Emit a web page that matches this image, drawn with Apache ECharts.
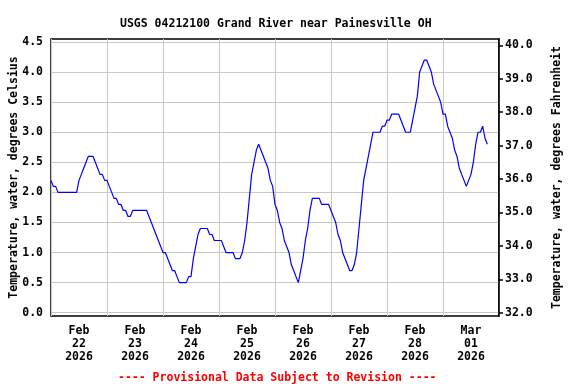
<!DOCTYPE html>
<html><head><meta charset="utf-8">
<script src="https://cdn.jsdelivr.net/npm/echarts@6/dist/echarts.min.js"></script>
<style>html,body{margin:0;padding:0;background:#fff}#c{width:576px;height:384px}</style>
</head><body><div id="c"></div>
<script>
const titleText = 'USGS 04212100 Grand River near Painesville OH';
const noteText = '---- Provisional Data Subject to Revision ----';
const leftName = 'Temperature, water, degrees Celsius';
const rightName = 'Temperature, water, degrees Fahrenheit';

// x axis in hours since 2026-02-22 00:00
const dayTickHours = [12, 36, 60, 84, 108, 132, 156, 180];
const dayTickLabels = ['Feb\n22\n2026', 'Feb\n23\n2026', 'Feb\n24\n2026', 'Feb\n25\n2026',
  'Feb\n26\n2026', 'Feb\n27\n2026', 'Feb\n28\n2026', 'Mar\n01\n2026'];
const celsiusTicks = [0, 0.5, 1, 1.5, 2, 2.5, 3, 3.5, 4, 4.5];
const fahrenheitTicks = [32, 33, 34, 35, 36, 37, 38, 39, 40];

// hourly water temperature, degrees Celsius
const tempC = [
  2.2,2.1,2.1,2.0,2.0,2.0,2.0,2.0,2.0,2.0,2.0,2.0,2.2,2.3,2.4,2.5,2.6,2.6,2.6,2.5,2.4,2.3,2.3,2.2,
  2.2,2.1,2.0,1.9,1.9,1.8,1.8,1.7,1.7,1.6,1.6,1.7,1.7,1.7,1.7,1.7,1.7,1.7,1.6,1.5,1.4,1.3,1.2,1.1,
  1.0,1.0,0.9,0.8,0.7,0.7,0.6,0.5,0.5,0.5,0.5,0.6,0.6,0.9,1.1,1.3,1.4,1.4,1.4,1.4,1.3,1.3,1.2,1.2,
  1.2,1.2,1.1,1.0,1.0,1.0,1.0,0.9,0.9,0.9,1.0,1.2,1.5,1.9,2.3,2.5,2.7,2.8,2.7,2.6,2.5,2.4,2.2,2.1,
  1.8,1.7,1.5,1.4,1.2,1.1,1.0,0.8,0.7,0.6,0.5,0.7,0.9,1.2,1.4,1.7,1.9,1.9,1.9,1.9,1.8,1.8,1.8,1.8,
  1.7,1.6,1.5,1.3,1.2,1.0,0.9,0.8,0.7,0.7,0.8,1.0,1.4,1.8,2.2,2.4,2.6,2.8,3.0,3.0,3.0,3.0,3.1,3.1,
  3.2,3.2,3.3,3.3,3.3,3.3,3.2,3.1,3.0,3.0,3.0,3.2,3.4,3.6,4.0,4.1,4.2,4.2,4.1,4.0,3.8,3.7,3.6,3.5,
  3.3,3.3,3.1,3.0,2.9,2.7,2.6,2.4,2.3,2.2,2.1,2.2,2.3,2.5,2.8,3.0,3.0,3.1,2.9,2.8
];
const hours = tempC.map((_, i) => i);

const yMinC = -0.055, yMaxC = 4.55;
const cToF = c => c * 1.8 + 32;
const font = { fontFamily: 'DejaVu Sans Mono', fontWeight: 'bold', fontSize: 11.5, color: '#000' };

const chart = echarts.init(document.getElementById('c'), null, { renderer: 'canvas' });
chart.setOption({
  animation: false,
  backgroundColor: '#fff',
  title: [
    { text: titleText, left: 115, top: 13, textStyle: Object.assign({}, font) },
    { text: noteText, left: 113, top: 367, textStyle: Object.assign({}, font, { color: '#ff0000' }) }
  ],
  grid: { left: 51, right: 77, top: 39, bottom: 68, show: true, borderColor: '#000', borderWidth: 1.5,
    backgroundColor: 'transparent', containLabel: false, outerBoundsMode: 'none' },
  xAxis: {
    type: 'value', min: 0, max: 192, interval: 24,
    axisLine: { show: false }, axisTick: { show: false },
    splitLine: { show: true, lineStyle: { color: '#c8c8c8', width: 1 } },
    axisLabel: Object.assign({}, font, {
      customValues: dayTickHours, margin: 9, lineHeight: 13,
      formatter: v => dayTickLabels[dayTickHours.indexOf(v)]
    })
  },
  yAxis: [
    {
      type: 'value', min: yMinC, max: yMaxC, position: 'left',
      name: leftName, nameLocation: 'middle', nameGap: 31, nameRotate: 90, nameMoveOverlap: false,
      nameTextStyle: Object.assign({}, font),
      axisLine: { show: false },
      axisTick: { show: false, customValues: celsiusTicks },
      splitLine: { show: true, lineStyle: { color: '#c8c8c8', width: 1 } },
      axisLabel: Object.assign({}, font, { customValues: celsiusTicks, margin: 8, formatter: v => v.toFixed(1) })
    },
    {
      type: 'value', min: cToF(yMinC), max: cToF(yMaxC), position: 'right',
      name: rightName, nameLocation: 'middle', nameGap: 52, nameRotate: 90, nameMoveOverlap: false,
      nameTextStyle: Object.assign({}, font),
      axisLine: { show: true, lineStyle: { color: '#000', width: 1.5 } },
      axisTick: { show: true, customValues: fahrenheitTicks, length: 4, lineStyle: { color: '#000', width: 1.5 } },
      splitLine: { show: false },
      axisLabel: Object.assign({}, font, { customValues: fahrenheitTicks, margin: 6, formatter: v => v.toFixed(1) })
    }
  ],
  series: [{
    type: 'line', yAxisIndex: 0, showSymbol: false, symbol: 'none',
    data: hours.map((h, i) => [h, tempC[i]]),
    lineStyle: { color: '#0000ff', width: 1.2 }
  }]
});
</script></body></html>
